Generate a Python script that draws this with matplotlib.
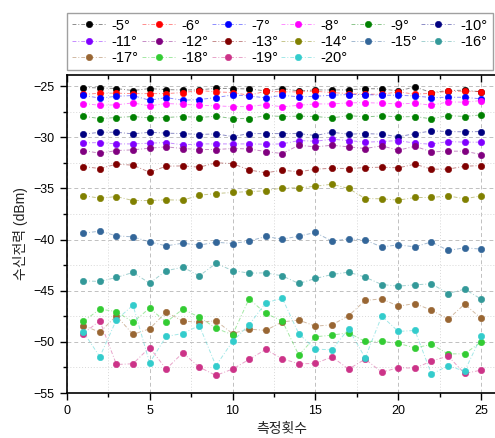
import matplotlib
matplotlib.use("Agg")
import matplotlib.pyplot as plt
from matplotlib.ticker import MultipleLocator
from matplotlib.colors import to_rgba
import numpy as np

plt.rcParams['font.family'] = ['Liberation Sans', 'Noto Sans CJK KR', 'DejaVu Sans']

n = np.arange(1, 26)

labels = ['-5°', '-6°', '-7°', '-8°', '-9°', '-10°', '-11°', '-12°', '-13°', '-14°',
          '-15°', '-16°', '-17°', '-18°', '-19°', '-20°']

colors = ['#000000', '#FF0000', '#0000FF', '#FF00FF', '#008000', '#000080',
          '#8000FF', '#800080', '#800000', '#808000', '#336699', '#339999',
          '#996633', '#33CC33', '#CC3388', '#33CCCC']

# received power [dBm], 25 measurements each
p5 = [-25.13, -25.16, -25.23, -25.42, -25.23, -25.33, -25.36, -25.36, -25.20, -25.23,
      -25.26, -25.46, -25.23, -25.46, -25.36, -25.36, -25.36, -25.23, -25.26, -25.46,
      -25.07, -25.62, -25.42, -25.39, -25.55]
p6 = [-25.80, -25.68, -25.68, -25.72, -25.72, -25.72, -25.62, -25.42, -25.55, -25.62,
      -25.88, -25.49, -25.55, -25.55, -25.49, -25.62, -25.72, -25.78, -25.78, -25.55,
      -25.78, -25.68, -25.49, -25.49, -25.52]
p7 = [-25.88, -26.17, -25.98, -25.91, -26.37, -26.11, -26.37, -26.30, -26.11, -25.85,
      -25.95, -26.14, -25.88, -26.04, -25.98, -25.88, -25.81, -25.81, -25.88, -25.88,
      -25.95, -26.11, -26.08, -26.08, -26.24]
p8 = [-26.69, -26.86, -26.82, -26.63, -26.92, -26.69, -26.76, -26.86, -26.92, -26.99,
      -26.99, -26.79, -27.02, -26.86, -26.73, -26.73, -26.63, -26.60, -26.66, -26.73,
      -26.66, -26.86, -26.53, -26.56, -26.40]
p9 = [-27.93, -28.16, -28.06, -27.96, -28.10, -28.06, -27.96, -28.06, -27.93, -28.16,
      -28.16, -27.87, -27.96, -27.93, -27.96, -28.10, -27.87, -28.00, -27.90, -28.00,
      -27.96, -28.19, -27.87, -27.96, -27.80]
p10 = [-29.69, -29.50, -29.50, -29.66, -29.50, -29.59, -29.63, -29.72, -29.66, -29.92,
       -29.63, -29.63, -29.63, -29.63, -29.82, -29.50, -29.69, -29.63, -29.69, -29.95,
       -29.63, -29.37, -29.43, -29.46, -29.43]
p11 = [-30.54, -30.51, -30.64, -30.64, -30.57, -30.51, -30.73, -30.64, -30.64, -30.64,
       -30.64, -30.67, -30.64, -30.31, -30.38, -30.18, -30.31, -30.47, -30.41, -30.31,
       -30.57, -30.67, -30.41, -30.47, -30.47]
p12 = [-31.29, -31.55, -31.29, -31.22, -31.06, -30.93, -31.09, -31.19, -31.19, -31.09,
       -31.13, -31.39, -31.58, -30.77, -30.93, -30.77, -30.93, -31.09, -30.83, -31.26,
       -30.87, -31.42, -31.35, -31.35, -31.68]
p13 = [-32.85, -33.05, -32.62, -32.72, -33.41, -32.82, -32.79, -32.92, -32.49, -32.56,
       -33.18, -33.47, -33.21, -33.37, -33.11, -33.02, -33.05, -32.95, -32.92, -32.98,
       -32.62, -33.11, -33.11, -32.82, -32.76]
p14 = [-35.69, -35.95, -35.79, -36.18, -36.18, -36.11, -36.14, -35.66, -35.49, -35.39,
       -35.30, -35.23, -34.94, -34.94, -34.78, -34.58, -35.00, -35.98, -36.01, -36.14,
       -35.88, -35.88, -35.72, -36.01, -35.72]
p15 = [-39.37, -39.17, -39.63, -39.73, -40.22, -40.61, -40.35, -40.54, -40.25, -40.38,
       -40.15, -39.69, -39.96, -39.66, -39.30, -40.15, -39.92, -40.05, -40.71, -40.51,
       -40.71, -40.22, -41.06, -40.80, -40.93]
p16 = [-44.03, -44.09, -43.70, -43.21, -44.26, -43.05, -42.69, -43.54, -42.33, -43.02,
       -43.28, -43.25, -43.54, -44.29, -43.80, -43.41, -43.18, -43.67, -44.39, -44.55,
       -44.42, -44.32, -45.27, -44.84, -45.82]
p17 = [-48.40, -49.05, -47.45, -49.27, -48.72, -47.09, -47.97, -48.07, -47.94, -49.18,
       -48.75, -48.88, -48.04, -47.87, -48.46, -48.33, -47.45, -45.95, -45.79, -46.51,
       -46.25, -46.90, -47.78, -46.31, -47.71]
p18 = [-48.00, -46.80, -47.03, -48.07, -46.70, -48.07, -46.80, -47.58, -48.66, -49.31,
       -45.79, -47.22, -47.94, -51.30, -49.50, -49.34, -49.11, -49.96, -49.93, -50.15,
       -50.58, -50.25, -51.17, -51.17, -49.99]
p19 = [-49.18, -47.94, -52.21, -52.14, -50.55, -52.66, -51.07, -52.47, -53.28, -52.66,
       -51.72, -50.74, -51.65, -52.14, -52.11, -51.46, -52.66, -51.69, -52.96, -52.53,
       -52.57, -51.88, -51.39, -53.09, -52.76]
p20 = [-49.01, -51.46, -47.84, -46.41, -52.05, -49.47, -49.18, -48.40, -52.34, -49.96,
       -48.33, -46.18, -45.73, -49.21, -50.71, -50.77, -48.72, -51.56, -47.48, -48.98,
       -48.88, -53.15, -52.34, -52.86, -49.44]

series = [p5, p6, p7, p8, p9, p10, p11, p12, p13, p14, p15, p16, p17, p18, p19, p20]

fig = plt.figure(figsize=(4.95, 4.38), dpi=100)
ax = fig.add_axes([0.1347, 0.1027, 0.871, 0.7261])

lines = []
for vals, lab, c in zip(series, labels, colors):
    ln, = ax.plot(n, vals, color=to_rgba(c, 0.45), linestyle=(0, (4, 2, 1, 2)), lw=0.7,
                  marker='o', ms=4.6, mfc=c, mec=c, mew=0.4, label=lab)
    lines.append(ln)

ax.set_xlim(0, 26)
ax.set_ylim(-55, -23.9)
ax.xaxis.set_major_locator(MultipleLocator(5))
ax.xaxis.set_minor_locator(MultipleLocator(2.5))
ax.yaxis.set_major_locator(MultipleLocator(5))
ax.yaxis.set_minor_locator(MultipleLocator(2.5))

ax.grid(which='major', color='#c0c0c0', linestyle=(0, (4, 3)), lw=0.7)
ax.grid(which='minor', color='#d8d8d8', linestyle=(0, (1, 2)), lw=0.7)
ax.set_axisbelow(True)

ax.tick_params(which='both', labelsize=9, width=1, colors='black',
               top=True, right=True, direction='out')
ax.tick_params(which='major', length=5)
ax.tick_params(which='minor', length=3)
for s in ax.spines.values():
    s.set_linewidth(1.2)

# top/right ticks point inward
for t in ax.xaxis.get_major_ticks() + ax.xaxis.get_minor_ticks():
    t.tick2line.set_marker(3)
for t in ax.yaxis.get_major_ticks() + ax.yaxis.get_minor_ticks():
    t.tick2line.set_marker(1)

ax.set_xlabel('측정횟수', fontsize=10, color='#222222')
ax.set_ylabel('수신전력 (dBm)', fontsize=10, color='#222222')

# legend filled row by row (6 per row)
ncol = 6
order = [i for c in range(ncol) for i in range(c, len(lines), ncol)]
fig.legend([lines[i] for i in order], [labels[i] for i in order],
           loc='lower left', bbox_to_anchor=(0.1354, 0.84, 0.86, 0.133),
           mode='expand', ncol=ncol, fontsize=10.5, frameon=True, fancybox=False,
           edgecolor='#888888', handlelength=2.3, handletextpad=0.4,
           columnspacing=0.2, borderpad=0.35, labelspacing=0.15, borderaxespad=0)

fig.savefig('out.png', dpi=100)
